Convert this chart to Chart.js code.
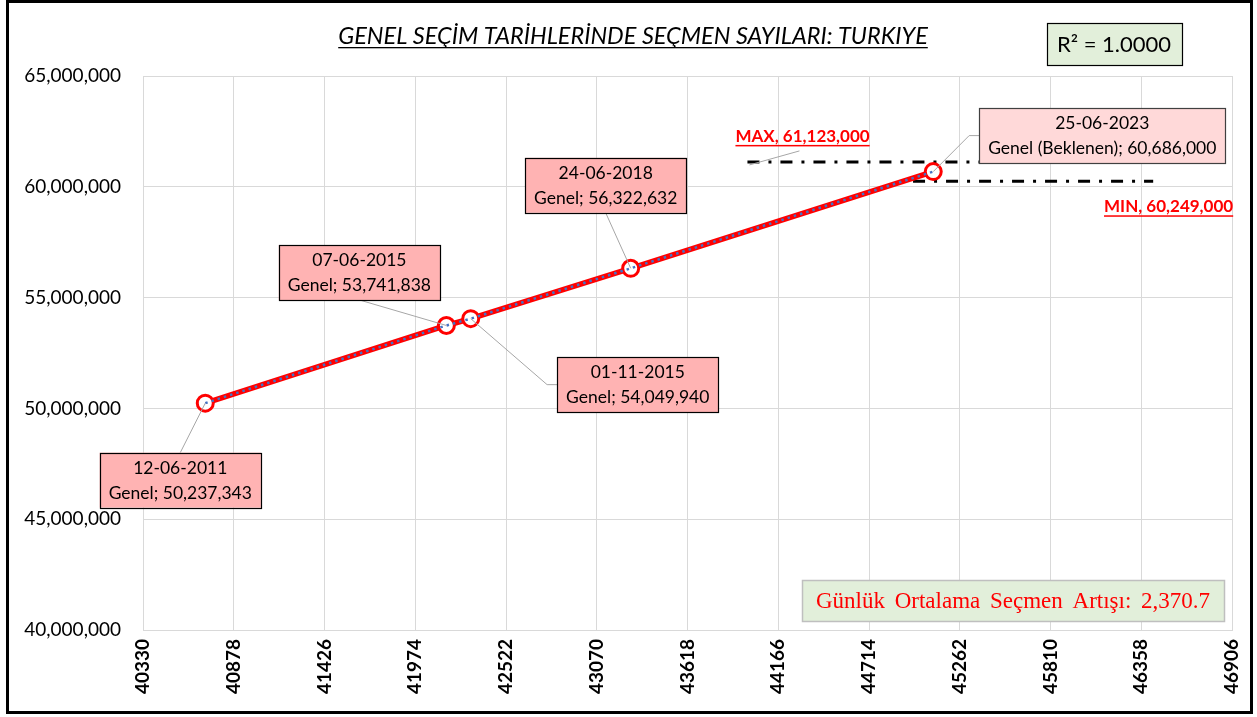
<!DOCTYPE html>
<html>
<head>
<meta charset="utf-8">
<script src="https://cdn.jsdelivr.net/npm/chart.js@4.4.1/dist/chart.umd.min.js"></script>
<style>
  body { margin: 0; background: #fff; overflow: hidden; }
  #wrap { width: 1257px; height: 717px; position: relative; }
</style>
</head>
<body>
<div id="wrap"><canvas id="grafica"></canvas></div>
<script>
// veriler
const tarihler = ['12-06-2011', '07-06-2015', '01-11-2015', '24-06-2018', '25-06-2023'];
const gunler = [40706, 42162, 42309, 43275, 45102]; // excel tarih numaralari
const secmenler = [50237343, 53741838, 54049940, 56322632, 60686000];
const seriAdlari = ['Genel', 'Genel', 'Genel', 'Genel', 'Genel (Beklenen)'];

const xTicks = [40330, 40878, 41426, 41974, 42522, 43070, 43618, 44166, 44714, 45262, 45810, 46358, 46906];
const yTicks = [40000000, 45000000, 50000000, 55000000, 60000000, 65000000];

const maxDeger = 61123000;
const maxAralik = [43980, 45430];
const minDeger = 60249000;
const minAralik = [44980, 46430];

const rKare = '1.0000';
const gunlukArtis = '2,370.7';
const baslik = 'GENEL SEÇİM TARİHLERİNDE SEÇMEN SAYILARI: TURKIYE';

// etiket kutularinin noktaya gore yeri
const etiketYerleri = [
  { dx: -25, dy: 77, bag: 'ust', renk: '#ffb3b3' },
  { dx: -87, dy: -53, bag: 'alt', renk: '#ffb3b3' },
  { dx: 167, dy: 66, bag: 'sol', renk: '#ffb3b3' },
  { dx: -25, dy: -83, bag: 'alt', renk: '#ffb3b3' },
  { dx: 169, dy: -36, bag: 'sol', renk: '#ffd9d9' }
];

const noktalar = gunler.map((g, i) => ({ x: g, y: secmenler[i] }));

const fmt = v => Number(v).toLocaleString('en-US');

const ekler = {
  id: 'ekler',
  afterDraw(chart) {
    const ctx = chart.ctx;
    const xs = chart.scales.x, ys = chart.scales.y;
    ctx.save();

    // baslik
    ctx.font = 'italic 23.5px Lato';
    ctx.fillStyle = '#000';
    ctx.textAlign = 'center';
    ctx.textBaseline = 'alphabetic';
    ctx.fillText(baslik, 633, 44);
    let bw = ctx.measureText(baslik).width;
    ctx.fillRect(633 - bw / 2, 47, bw, 1.3);

    // R kare kutusu
    ctx.fillStyle = '#e2efda';
    ctx.fillRect(1047, 23, 135, 42);
    ctx.strokeStyle = '#000';
    ctx.lineWidth = 1.2;
    ctx.strokeRect(1047.5, 23.5, 135, 42);
    ctx.fillStyle = '#000';
    ctx.font = '22px Lato';
    ctx.textBaseline = 'middle';
    ctx.fillText('R² = ' + rKare, 1114, 45);

    // etiketler
    ctx.font = '17.5px Lato';
    noktalar.forEach((p, i) => {
      const px = xs.getPixelForValue(p.x);
      const py = ys.getPixelForValue(p.y);
      const yer = etiketYerleri[i];
      const cx = px + yer.dx, cy = py + yer.dy;
      const s1 = tarihler[i];
      const s2 = seriAdlari[i] + '; ' + fmt(p.y);
      const w = Math.max(ctx.measureText(s1).width, ctx.measureText(s2).width) + 18;
      const h = 55;
      const l = cx - w / 2, t = cy - h / 2;

      // kilavuz cizgi
      ctx.strokeStyle = '#a6a6a6';
      ctx.lineWidth = 1;
      ctx.beginPath();
      ctx.moveTo(px, py);
      if (yer.bag === 'ust') ctx.lineTo(cx, t);
      else if (yer.bag === 'alt') ctx.lineTo(cx, t + h);
      else { ctx.lineTo(l - 10, cy); ctx.lineTo(l, cy); }
      ctx.stroke();

      ctx.fillStyle = yer.renk;
      ctx.fillRect(l, t, w, h);
      ctx.strokeStyle = i === 4 ? '#404040' : '#000';
      ctx.lineWidth = 1.2;
      ctx.strokeRect(Math.round(l) + 0.5, Math.round(t) + 0.5, Math.round(w), h);
      ctx.fillStyle = '#000';
      ctx.textAlign = 'center';
      ctx.fillText(s1, cx, cy - 12);
      ctx.fillText(s2, cx, cy + 13);
    });

    // MAX / MIN yazilari
    ctx.font = 'bold 17px Lato';
    ctx.fillStyle = '#ff0000';
    const mx0 = xs.getPixelForValue(maxAralik[0]);
    const my = ys.getPixelForValue(maxDeger);
    const maxYazi = 'MAX, ' + fmt(maxDeger);
    const maxW = ctx.measureText(maxYazi).width;
    ctx.textAlign = 'left';
    ctx.textBaseline = 'alphabetic';
    ctx.fillText(maxYazi, mx0 - 12, my - 20);
    ctx.fillRect(mx0 - 12, my - 17, maxW, 1.5);
    ctx.strokeStyle = '#a6a6a6';
    ctx.lineWidth = 1;
    ctx.beginPath();
    ctx.moveTo(mx0 + 2, my + 3);
    ctx.lineTo(mx0 + 52, my - 11);
    ctx.stroke();

    const nx1 = xs.getPixelForValue(minAralik[1]);
    const ny = ys.getPixelForValue(minDeger);
    const minYazi = 'MIN, ' + fmt(minDeger);
    const minW = ctx.measureText(minYazi).width;
    ctx.textAlign = 'right';
    ctx.fillText(minYazi, nx1 + 80, ny + 31);
    ctx.fillRect(nx1 + 80 - minW, ny + 34, minW, 1.5);

    // gunluk artis kutusu
    ctx.fillStyle = '#e2efda';
    ctx.fillRect(802, 580, 422, 41);
    ctx.strokeStyle = '#bfbfbf';
    ctx.lineWidth = 1.5;
    ctx.strokeRect(802.5, 580.5, 422, 41);
    ctx.fillStyle = '#ff0000';
    ctx.font = '23px "Liberation Serif"';
    ctx.textAlign = 'center';
    ctx.textBaseline = 'middle';
    try { ctx.wordSpacing = '4px'; } catch (e) {}
    ctx.fillText('Günlük Ortalama Seçmen Artışı: ' + gunlukArtis, 1013, 602);
    try { ctx.wordSpacing = '0px'; } catch (e) {}

    // cerceve
    ctx.strokeStyle = '#000';
    ctx.lineWidth = 3;
    ctx.strokeRect(7.5, 1.5, 1244, 711);
    ctx.restore();
  }
};

const config = {
  type: 'line',
  data: {
    datasets: [
      {
        label: 'Trend',
        data: noktalar,
        borderColor: '#4472c4',
        borderWidth: 2.5,
        borderDash: [2.5, 4],
        pointRadius: 0,
        order: 0
      },
      {
        label: 'Genel',
        data: noktalar,
        borderColor: '#ff0000',
        borderWidth: 5.5,
        pointRadius: 8,
        pointBorderWidth: 3,
        pointBorderColor: '#ff0000',
        pointBackgroundColor: '#ffffff',
        order: 1
      },
      {
        label: 'MAX',
        data: [{ x: maxAralik[0], y: maxDeger }, { x: maxAralik[1], y: maxDeger }],
        borderColor: '#000',
        borderWidth: 3,
        borderDash: [12, 9, 3, 9],
        pointRadius: 0,
        order: 2
      },
      {
        label: 'MIN',
        data: [{ x: minAralik[0], y: minDeger }, { x: minAralik[1], y: minDeger }],
        borderColor: '#000',
        borderWidth: 3,
        borderDash: [12, 9, 3, 9],
        pointRadius: 0,
        order: 2
      }
    ]
  },
  options: {
    responsive: true,
    maintainAspectRatio: false,
    animation: false,
    layout: { padding: { left: 0, right: 25, top: 76, bottom: 0 } },
    plugins: { legend: { display: false }, tooltip: { enabled: false } },
    scales: {
      x: {
        type: 'linear',
        min: xTicks[0],
        max: xTicks[xTicks.length - 1],
        afterBuildTicks: s => { s.ticks = xTicks.map(v => ({ value: v })); },
        afterFit: s => { s.height = 87; s.paddingLeft = 0; s.paddingRight = 0; },
        grid: { color: '#d9d9d9', drawTicks: false },
        border: { color: '#d9d9d9' },
        ticks: {
          minRotation: 90,
          maxRotation: 90,
          padding: 9,
          color: '#000',
          font: { family: 'Lato', size: 19, weight: 'bold' },
          callback: v => String(v)
        }
      },
      y: {
        min: yTicks[0],
        max: yTicks[yTicks.length - 1],
        afterBuildTicks: s => { s.ticks = yTicks.map(v => ({ value: v })); },
        afterFit: s => { s.width = 143; s.paddingTop = 0; s.paddingBottom = 0; },
        grid: { color: '#d9d9d9', drawTicks: false },
        border: { color: '#d9d9d9' },
        ticks: {
          padding: 22,
          color: '#000',
          font: { family: 'Lato', size: 19 },
          callback: v => fmt(v)
        }
      }
    }
  },
  plugins: [ekler]
};

const grafik = new Chart(document.getElementById('grafica'), config);
</script>
</body>
</html>
